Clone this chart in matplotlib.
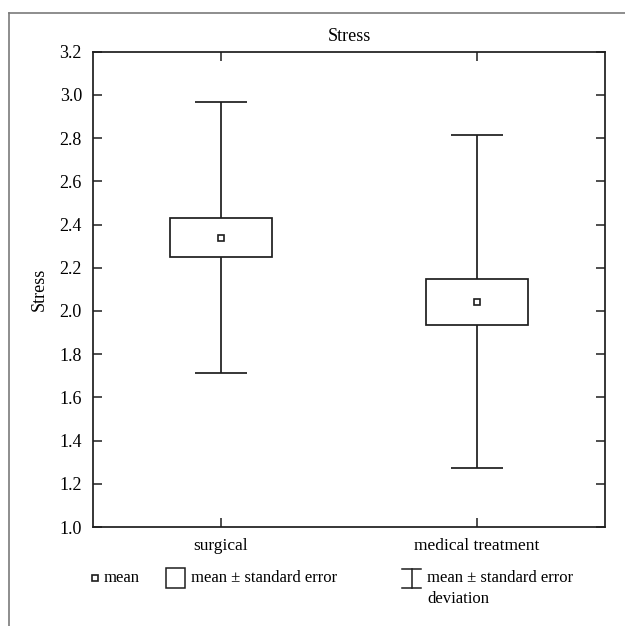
import numpy as np
import matplotlib
matplotlib.use("Agg")
import matplotlib.pyplot as plt
from matplotlib.patches import Rectangle

plt.rcParams['font.family'] = ['Liberation Serif', 'DejaVu Serif']
plt.rcParams['font.size'] = 12

# group summary values
groups = ["surgical", "medical treatment"]
means = [2.338, 2.042]
se = [0.090, 0.105]
sd = [0.627, 0.771]
yticks = [1.0, 1.2, 1.4, 1.6, 1.8, 2.0, 2.2, 2.4, 2.6, 2.8, 3.0, 3.2]

ink = '#1e1e1e'
W, H = 625, 626

fig = plt.figure(figsize=(W / 100, H / 100), dpi=100)

# overlay in pixel coords for frame + legend
ov = fig.add_axes([0, 0, 1, 1])
ov.set_xlim(0, W)
ov.set_ylim(H, 0)
ov.axis('off')

# outer frame (only top and left are visible)
ov.plot([9, W], [12.5, 12.5], color='#7a7a7a', lw=1.2)
ov.plot([9, 9], [12.5, H], color='#7a7a7a', lw=1.2)

ax = fig.add_axes([93 / W, 1 - 527 / H, (605 - 93) / W, (527 - 51.7) / H])

x = np.arange(len(groups))
for xi, m, s, d in zip(x, means, se, sd):
    # standard error box
    ax.add_patch(Rectangle((xi - 0.2, m - s), 0.4, 2 * s, fill=False,
                           edgecolor=ink, lw=1.25, zorder=2))
    # whiskers (standard deviation)
    ax.vlines(xi, m + s, m + d, color=ink, lw=1.25)
    ax.vlines(xi, m - d, m - s, color=ink, lw=1.25)
    ax.hlines([m + d, m - d], xi - 0.1, xi + 0.1, color=ink, lw=1.25)
    ax.plot(xi, m, 's', mfc='white', mec=ink, ms=4.5, mew=1.2, zorder=3)

ax.set_xlim(-0.5, 1.5)
ax.set_ylim(1.0, 3.2)
ax.set_xticks(x)
ax.set_xticklabels(groups, fontsize=12.5)
ax.set_yticks(yticks)
ax.set_yticklabels(['%.1f' % t for t in yticks], fontsize=13)
ax.tick_params(axis='both', direction='in', length=6.5, width=1.1, color=ink,
               top=True, right=True)
ax.tick_params(axis='x', pad=8)
ax.tick_params(axis='y', pad=8)
for sp in ax.spines.values():
    sp.set_color(ink)
    sp.set_linewidth(1.25)

ax.set_title('Stress', fontsize=13, pad=8)
ax.set_ylabel('Stress', fontsize=13)
ax.yaxis.set_label_coords(-0.088, 0.5)

# legend drawn by hand
ov.plot(95, 578, 's', mfc='white', mec=ink, ms=4.5, mew=1.2)
ov.text(104, 578, 'mean', va='center', ha='left', fontsize=12)
ov.add_patch(Rectangle((166, 568), 19, 20, fill=False, edgecolor=ink, lw=1.1))
ov.text(191, 578, 'mean \u00b1 standard error', va='center', ha='left', fontsize=12)
ov.plot([411.5, 411.5], [569, 588], color=ink, lw=1.1)
ov.plot([402, 421], [569, 569], color=ink, lw=1.1)
ov.plot([402, 421], [588, 588], color=ink, lw=1.1)
ov.text(427, 578, 'mean \u00b1 standard error', va='center', ha='left', fontsize=12)
ov.text(427, 599, 'deviation', va='center', ha='left', fontsize=12)

plt.savefig('out.png', dpi=100)
